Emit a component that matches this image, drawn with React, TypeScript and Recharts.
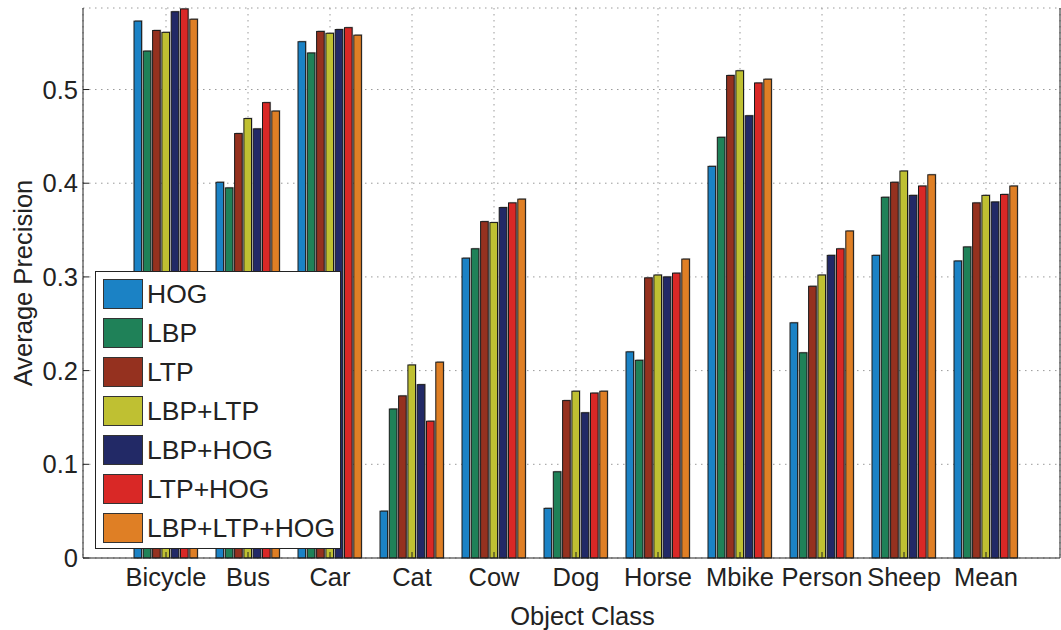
import { Bar, BarChart, CartesianGrid, Legend, XAxis, YAxis } from "recharts";

const categories = ["Bicycle", "Bus", "Car", "Cat", "Cow", "Dog", "Horse", "Mbike", "Person", "Sheep", "Mean"];

const hog = [0.573, 0.401, 0.551, 0.05, 0.32, 0.053, 0.22, 0.418, 0.251, 0.323, 0.317];
const lbp = [0.541, 0.395, 0.539, 0.159, 0.33, 0.092, 0.211, 0.449, 0.219, 0.385, 0.332];
const ltp = [0.563, 0.453, 0.562, 0.173, 0.359, 0.168, 0.299, 0.515, 0.29, 0.401, 0.379];
const lbpLtp = [0.561, 0.469, 0.56, 0.206, 0.358, 0.178, 0.302, 0.52, 0.302, 0.413, 0.387];
const lbpHog = [0.583, 0.458, 0.564, 0.185, 0.374, 0.155, 0.3, 0.472, 0.323, 0.387, 0.38];
const ltpHog = [0.586, 0.486, 0.566, 0.146, 0.379, 0.176, 0.304, 0.507, 0.33, 0.397, 0.388];
const lbpLtpHog = [0.575, 0.477, 0.558, 0.209, 0.383, 0.178, 0.319, 0.511, 0.349, 0.409, 0.397];

const yTicks = [0, 0.1, 0.2, 0.3, 0.4, 0.5];

const series = [
  { key: "HOG", values: hog, color: "#1b82c5" },
  { key: "LBP", values: lbp, color: "#1f8158" },
  { key: "LTP", values: ltp, color: "#95311f" },
  { key: "LBP+LTP", values: lbpLtp, color: "#bfc032" },
  { key: "LBP+HOG", values: lbpHog, color: "#222966" },
  { key: "LTP+HOG", values: ltpHog, color: "#d92826" },
  { key: "LBP+LTP+HOG", values: lbpLtpHog, color: "#df7f25" },
];

const data = categories.map((name, i) => {
  const row: Record<string, string | number> = { name };
  series.forEach((s) => (row[s.key] = s.values[i]));
  return row;
});

const font = "'Liberation Sans', Arial, Helvetica, sans-serif";
const ink = "#222";

const BarShape = (props: any) => {
  const { x, y, width, height, fill } = props;
  if (!height || height <= 0) return null;
  return (
    <g>
      <rect x={x + 1} y={y - 1} width={width} height={height + 1} fill="#b4b4b4" />
      <rect x={x} y={y} width={width} height={height} fill={fill} stroke="#1a1a1a" strokeWidth={1} />
    </g>
  );
};

const LegendBox = () => (
  <div
    style={{
      border: "1px solid #222",
      background: "#fff",
      padding: "2px 0 0 7px",
      boxSizing: "border-box",
      width: 246,
      height: 278,
      fontFamily: font,
      fontSize: 26.5,
      color: ink,
    }}
  >
    {series.map((s) => (
      <div key={s.key} style={{ display: "flex", alignItems: "center", height: 39 }}>
        <div
          style={{
            width: 40,
            height: 30,
            background: s.color,
            border: "1px solid #333",
            boxSizing: "border-box",
            marginRight: 4,
          }}
        />
        <span style={{ lineHeight: "30px" }}>{s.key}</span>
      </div>
    ))}
  </div>
);

export default function App() {
  const tickStyle = { fontSize: 25.5, fill: ink, fontFamily: font };
  return (
    <div style={{ position: "absolute", left: 0, top: 0, background: "#fff" }}>
      <BarChart
        width={1061}
        height={630}
        data={data}
        margin={{ top: 8, right: 0, left: 0, bottom: 0 }}
        barCategoryGap="10.7%"
        barGap={1.7}
        barSize={7.6}
      >
        <CartesianGrid stroke="#9a9a9a" strokeDasharray="1.5 4.5" />
        <XAxis
          dataKey="name"
          height={72}
          padding={{ left: 42, right: 33 }}
          stroke={ink}
          tickSize={-6}
          tickMargin={16}
          tick={tickStyle}
          interval={0}
          label={{
            value: "Object Class",
            position: "insideBottom",
            offset: 5,
            dx: 11,
            style: { fontSize: 25.5, fill: ink, fontFamily: font },
          }}
        />
        <XAxis
          xAxisId="top"
          dataKey="name"
          orientation="top"
          height={0}
          padding={{ left: 42, right: 33 }}
          stroke={ink}
          tickSize={-6}
          tickFormatter={() => ""}
          interval={0}
        />
        <YAxis
          width={83}
          domain={[0, 0.587]}
          ticks={yTicks}
          stroke={ink}
          tickSize={-6}
          tickMargin={11}
          tick={tickStyle}
          tickFormatter={(v) => (v === 0 ? "0" : v.toFixed(1))}
          label={{
            value: "Average Precision",
            angle: -90,
            position: "center",
            dx: -19,
            style: { fontSize: 25.5, fill: ink, fontFamily: font, textAnchor: "middle" },
          }}
        />
        <YAxis
          yAxisId="right"
          orientation="right"
          width={1}
          domain={[0, 0.587]}
          ticks={yTicks}
          stroke={ink}
          tickSize={-6}
          tickFormatter={() => ""}
        />
        <Legend
          layout="vertical"
          align="center"
          verticalAlign="middle"
          wrapperStyle={{ left: 95, top: 271, width: 246, height: 278 }}
          content={() => <LegendBox />}
        />
        {series.map((s) => (
          <Bar
            key={s.key}
            dataKey={s.key}
            fill={s.color}
            shape={<BarShape />}
            isAnimationActive={false}
          />
        ))}
      </BarChart>
    </div>
  );
}
